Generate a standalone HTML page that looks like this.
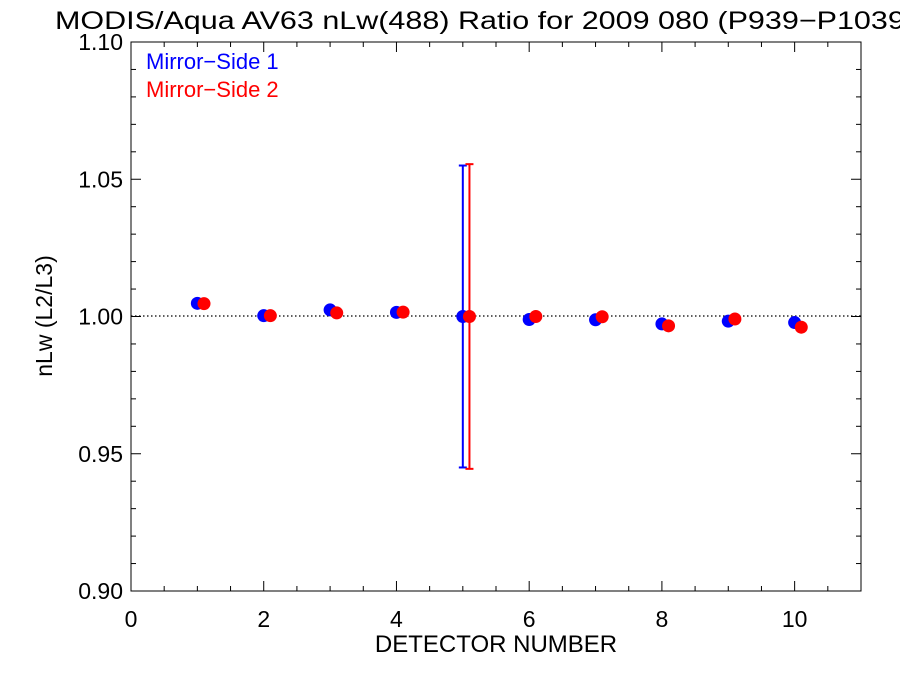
<!DOCTYPE html>
<html><head><meta charset="utf-8"><style>
body{margin:0;background:#fff;overflow:hidden;}
text{font-family:"Liberation Sans",sans-serif;}
</style></head><body>
<svg id="chart" width="900" height="675" xmlns="http://www.w3.org/2000/svg">
<text x="55" y="29" font-size="25" textLength="860" lengthAdjust="spacingAndGlyphs" style="font-size:25px">MODIS/Aqua AV63 nLw(488) Ratio for 2009 080 (P939−P1039)</text>
<rect x="131" y="42" width="730" height="549" fill="none" stroke="#000" stroke-width="1"/>
<g id="axes"></g>
<line x1="131" x2="861" y1="316" y2="316" stroke="#000" stroke-dasharray="1.5,2.5" stroke-width="1.3"/>
<g id="marks"></g>
<text x="146" y="69" font-size="22" fill="#0000ff">Mirror−Side 1</text>
<text x="146" y="97" font-size="22" fill="#ff0000">Mirror−Side 2</text>
<text x="496" y="652" font-size="24" text-anchor="middle">DETECTOR NUMBER</text>
<text transform="translate(52,316) rotate(-90)" font-size="23" text-anchor="middle">nLw (L2/L3)</text>
</svg>
<script>
const detectors=[1,2,3,4,5,6,7,8,9,10];
const ms1=[1.0048,1.0003,1.0024,1.0015,1.0000,0.9989,0.9988,0.9973,0.9983,0.9978];
const ms2=[1.0047,1.0003,1.0013,1.0016,1.0000,1.0000,0.9999,0.9966,0.9991,0.9961];
const errDetector=5;
const ms1Err=[0.945,1.055];
const ms2Err=[0.9445,1.0555];
const xTicks=[0,2,4,6,8,10];
const yTicks=[0.90,0.95,1.00,1.05,1.10];
const X=v=>131+v*(730/11);
const Y=v=>591-(v-0.90)*(549/0.2);
const NS="http://www.w3.org/2000/svg";
const axes=document.getElementById('axes'),marks=document.getElementById('marks');
function mk(tag,attrs,parent){const e=document.createElementNS(NS,tag);for(const k in attrs)e.setAttribute(k,attrs[k]);parent.appendChild(e);return e;}
for(let v=0;v<=11;v+=0.5){const major=Number.isInteger(v/2);const len=major?10:5;
const a=mk('line',{x1:X(v),x2:X(v),y1:591,y2:591-len,stroke:'#000'},axes);


const b=mk('line',{x1:X(v),x2:X(v),y1:42,y2:42+len,stroke:'#000'},axes);

}
xTicks.forEach(v=>{const t=mk('text',{x:X(v),y:627,'font-size':23,'text-anchor':'middle'},axes);t.textContent=v;

});
for(let i=0;i<=20;i++){const v=0.90+i*0.01;const major=i%5===0;const len=major?10:5;
const a=mk('line',{x1:131,x2:131+len,y1:Y(v),y2:Y(v),stroke:'#000'},axes);


const b=mk('line',{x1:861,x2:861-len,y1:Y(v),y2:Y(v),stroke:'#000'},axes);

}
yTicks.forEach(v=>{const t=mk('text',{x:123,y:Y(v)+8,'font-size':23,'text-anchor':'end'},axes);t.textContent=v.toFixed(2);

});
function errbar(x,r,col,name){const g=mk('g',{stroke:col,'stroke-width':2},marks);


mk('line',{x1:X(x),x2:X(x),y1:Y(r[0]),y2:Y(r[1])},g);
mk('line',{x1:X(x)-4,x2:X(x)+4,y1:Y(r[0]),y2:Y(r[0])},g);
mk('line',{x1:X(x)-4,x2:X(x)+4,y1:Y(r[1]),y2:Y(r[1])},g);}
errbar(errDetector,ms1Err,'#0000ff','error-bar-ms1');
errbar(errDetector+0.1,ms2Err,'#ff0000','error-bar-ms2');
detectors.forEach((d,i)=>{
const c1=mk('circle',{cx:X(d),cy:Y(ms1[i]),r:6.5,fill:'#0000ff'},marks);


const c2=mk('circle',{cx:X(d+0.1),cy:Y(ms2[i]),r:6.5,fill:'#ff0000'},marks);

});
</script>
</body></html>
